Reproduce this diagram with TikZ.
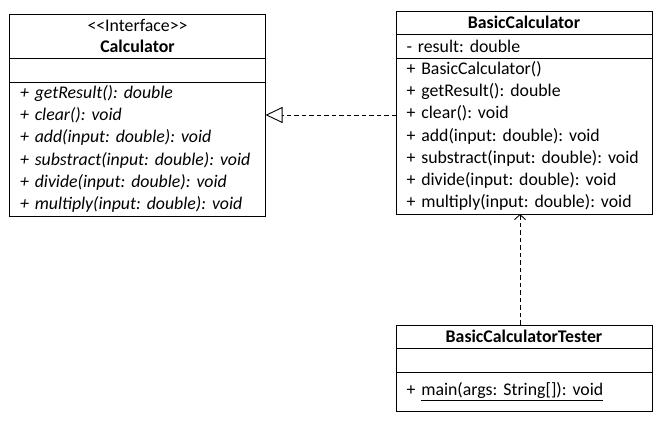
\documentclass[tikz,border=0pt]{standalone}
\usepackage{fontspec}
\setmainfont{Carlito}
\usetikzlibrary{positioning,arrows.meta}
\frenchspacing
\begin{document}
\begin{tikzpicture}[x=1pt, y=-1pt, line width=0.9pt,
    every node/.style={font=\fontsize{17.8}{22.2}\selectfont},
    part/.style={draw, outer sep=0pt, minimum width=256pt, text width=235pt,
        inner xsep=10.5pt, inner ysep=0pt, align=left, anchor=north west},
    title/.style={part, align=center, font=\fontsize{17.8}{21}\selectfont\bfseries},
    dep/.style={dash pattern=on 4.5pt off 3pt}]
    \useasboundingbox (0,0) rectangle (662,422);
    % interface
    \node[title, minimum height=44pt] (calchead) at (9.5,14) {\textmd{<{}<Interface>{}>}\\Calculator};
    \node[part, below=0pt of calchead, minimum height=24pt] (calcattr) {};
    \node[part, below=0pt of calcattr, minimum height=134pt,
        font=\fontsize{17.8}{22.2}\selectfont\itshape] (calcops)
        {+ getResult(): double\\+ clear(): void\\+ add(input: double): void\\+ substract(input: double): void\\+ divide(input: double): void\\+ multiply(input: double): void};
    % class
    \node[title, minimum height=23pt] (basichead) at (396,11) {BasicCalculator};
    \node[part, below=0pt of basichead, minimum height=24pt] (basicattr) {- result: double};
    \node[part, below=0pt of basicattr, minimum height=156pt] (basicops)
        {+ BasicCalculator()\\+ getResult(): double\\+ clear(): void\\+ add(input: double): void\\+ substract(input: double): void\\+ divide(input: double): void\\+ multiply(input: double): void};
    % tester
    \node[title, minimum height=23pt] (testhead) at (396,325) {BasicCalculatorTester};
    \node[part, below=0pt of testhead, minimum height=24pt] (testattr) {};
    \node[part, below=0pt of testattr, minimum height=39pt] (testops) {+ \underline{main(args: String[]): void}};
    % links
    \draw[dep, -{Triangle[open, length=17pt, width=16pt]}] ([yshift=21pt]basicops.west) -- ([yshift=21pt]basicops.west -| calcops.east);
    \draw[dep, -{Straight Barb[length=5pt, width=11pt]}] ([xshift=-4pt]testhead.north) -- ([xshift=-4pt]basicops.south);
\end{tikzpicture}
\end{document}
